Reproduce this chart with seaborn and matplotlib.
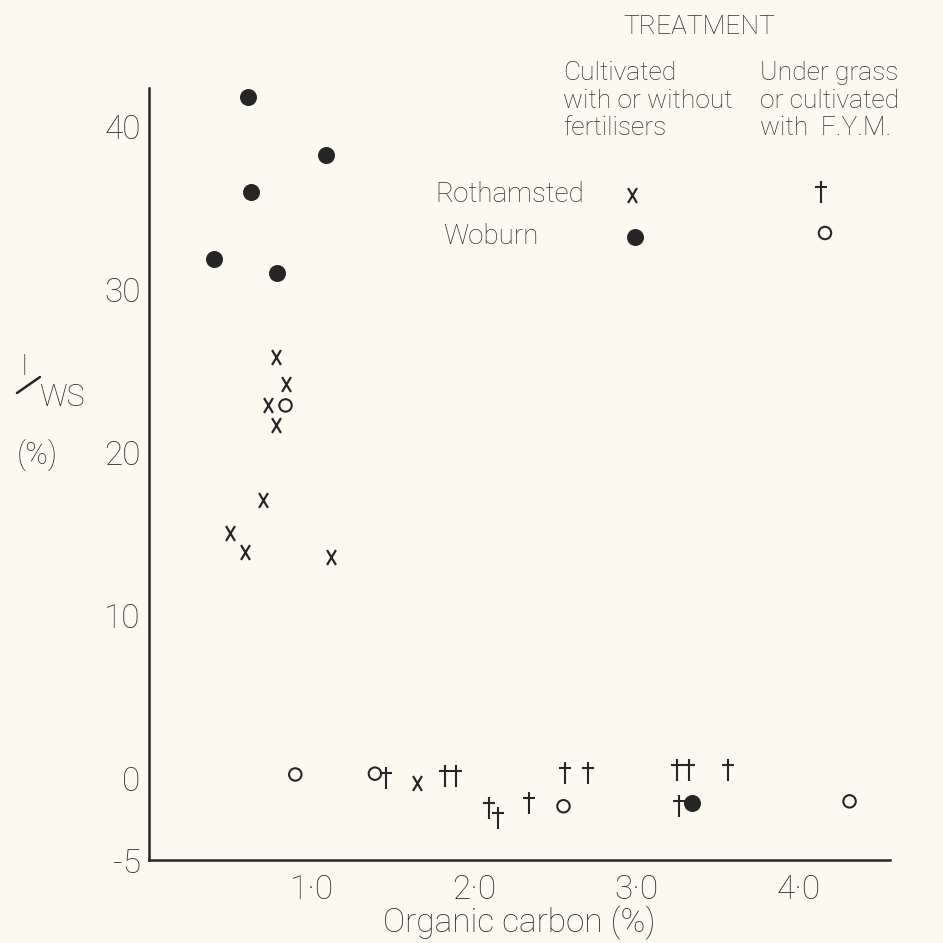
import numpy as np
import pandas as pd
import matplotlib
matplotlib.use("Agg")
import matplotlib.pyplot as plt
from matplotlib.path import Path
from matplotlib.lines import Line2D
import seaborn as sns

# ---------------- data ----------------
# Rothamsted, cultivated with or without fertilisers  (x)
roth_cult_x = [0.78, 0.84, 0.73, 0.78, 0.70, 0.50, 0.59, 1.12, 1.65]
roth_cult_y = [25.9, 24.2, 22.9, 21.7, 17.1, 15.1, 13.9, 13.6, -0.3]
# Woburn, cultivated with or without fertilisers  (filled circle)
wob_cult_x = [0.61, 1.09, 0.63, 0.40, 0.79, 3.34]
wob_cult_y = [41.8, 38.3, 36.0, 31.9, 31.0, -1.5]
# Rothamsted, under grass or cultivated with F.Y.M.  (dagger)
roth_grass_x = [1.46, 1.82, 1.89, 2.09, 2.15, 2.34, 2.56, 2.70, 3.25, 3.32, 3.56, 3.26]
roth_grass_y = [0.05, 0.15, 0.15, -1.8, -2.4, -1.5, 0.35, 0.35, 0.55, 0.55, 0.55, -1.7]
# Woburn, under grass or cultivated with F.Y.M.  (open circle)
wob_grass_x = [0.84, 0.90, 1.39, 2.55, 4.31]
wob_grass_y = [22.9, 0.25, 0.3, -1.7, -1.4]

x_ticks = [1.0, 2.0, 3.0, 4.0]
x_tick_labels = ["1·0", "2·0", "3·0", "4·0"]
y_ticks = [-5, 0, 10, 20, 30, 40]
y_tick_labels = ["-5", "0", "10", "20", "30", "40"]

# ---------------- style ----------------
BG = "#fcfaf0"
INK = "#262626"
TXT = "#333333"
sns.set_theme(style="white")
plt.rcParams["font.family"] = ["Roboto", "DejaVu Sans"]
plt.rcParams["font.weight"] = "light"
plt.rcParams["axes.labelweight"] = "light"
plt.rcParams["text.color"] = TXT

# custom markers
x_marker = Path([(-0.6, -1), (0.6, 1), (-0.6, 1), (0.6, -1)],
                [Path.MOVETO, Path.LINETO, Path.MOVETO, Path.LINETO])
dagger = Path([(0, 1), (0, -1), (-0.55, 0.42), (0.55, 0.42)],
              [Path.MOVETO, Path.LINETO, Path.MOVETO, Path.LINETO])

fig = plt.figure(figsize=(9.43, 9.43), dpi=100, facecolor=BG)
ax = fig.add_axes([0.158, 0.088, 0.786, 0.819])
ax.set_facecolor(BG)

df_rc = pd.DataFrame({"x": roth_cult_x, "y": roth_cult_y})
df_wc = pd.DataFrame({"x": wob_cult_x, "y": wob_cult_y})
df_rg = pd.DataFrame({"x": roth_grass_x, "y": roth_grass_y})
df_wg = pd.DataFrame({"x": wob_grass_x, "y": wob_grass_y})

sns.scatterplot(data=df_wc, x="x", y="y", ax=ax, s=150, color=INK,
                edgecolor=INK, linewidth=0, marker="o", zorder=3)
sns.scatterplot(data=df_wg, x="x", y="y", ax=ax, s=80, facecolor="none",
                edgecolor=INK, linewidth=1.5, marker="o", zorder=3)
sns.scatterplot(data=df_rc, x="x", y="y", ax=ax, s=115, color=INK,
                edgecolor=INK, linewidth=1.6, marker=x_marker, zorder=3)
sns.scatterplot(data=df_rg, x="x", y="y", ax=ax, s=260, color=INK,
                edgecolor=INK, linewidth=1.5, marker=dagger, zorder=3)

ax.set_xlim(0, 4.56)
ax.set_ylim(-5, 42.4)
ax.set_xticks(x_ticks)
ax.set_xticklabels(x_tick_labels)
ax.set_yticks(y_ticks)
ax.set_yticklabels(y_tick_labels)
ax.tick_params(direction="in", length=9, width=1.6, color=INK,
               labelsize=24, labelcolor=TXT, pad=6)
ax.tick_params(axis="x", pad=10)
for side in ["top", "right"]:
    ax.spines[side].set_visible(False)
for side in ["left", "bottom"]:
    ax.spines[side].set_color(INK)
    ax.spines[side].set_linewidth(1.8)
ax.set_xlabel("Organic carbon (%)", fontsize=24, fontweight="light",
              color=TXT, labelpad=0)
ax.set_ylabel("")

# y label  I / WS (%)
W, H = 943.0, 943.0
def ftxt(px, py, s, **kw):
    fig.text(px / W, 1 - py / H, s, **kw)

ftxt(24, 367, "I", fontsize=21, ha="center", va="center")
fig.add_artist(Line2D([17 / W, 40 / W], [1 - 393 / H, 1 - 377 / H],
                      transform=fig.transFigure, color=INK, linewidth=1.8))
ftxt(62, 398, "WS", fontsize=22, ha="center", va="center")
ftxt(37, 455, "(%)", fontsize=22, ha="center", va="center")

# legend block
ftxt(699, 27, "TREATMENT", fontsize=19, ha="center", va="center")
for i, line in enumerate(["Cultivated", "with or without", "fertilisers"]):
    ftxt(563, 73 + 27.5 * i, line, fontsize=19, ha="left", va="center")
for i, line in enumerate(["Under grass", "or cultivated", "with  F.Y.M."]):
    ftxt(760, 73 + 27.5 * i, line, fontsize=19, ha="left", va="center")
ftxt(435, 195, "Rothamsted", fontsize=20, ha="left", va="center")
ftxt(443, 237, "Woburn", fontsize=20, ha="left", va="center")

tr = fig.transFigure
ax.scatter([632 / W], [1 - 195 / H], transform=tr, s=115, marker=x_marker,
           color=INK, linewidth=1.6, clip_on=False)
ax.scatter([821 / W], [1 - 192 / H], transform=tr, s=260, marker=dagger,
           color=INK, linewidth=1.5, clip_on=False)
ax.scatter([635 / W], [1 - 237 / H], transform=tr, s=150, marker="o",
           color=INK, linewidth=0, clip_on=False)
ax.scatter([825 / W], [1 - 233 / H], transform=tr, s=80, marker="o",
           facecolor="none", edgecolor=INK, linewidth=1.5, clip_on=False)

fig.savefig("out.png", dpi=100, facecolor=BG)
